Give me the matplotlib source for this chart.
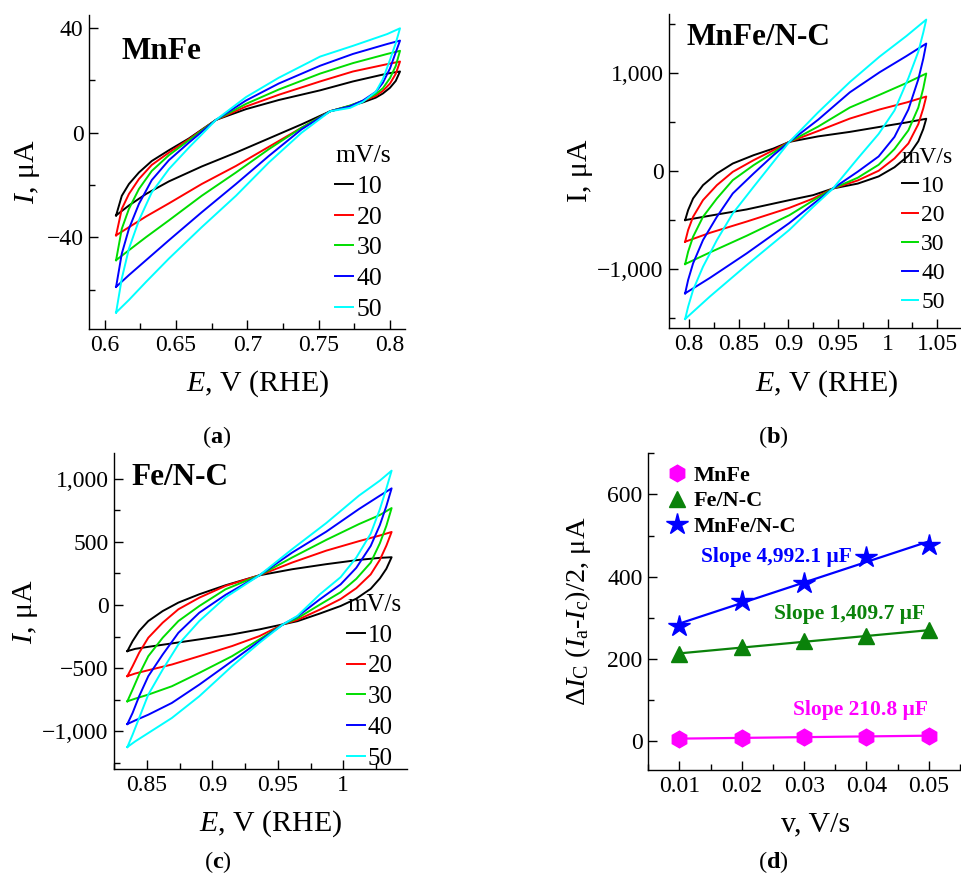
import numpy as np
import matplotlib
matplotlib.use('Agg')
import matplotlib.pyplot as plt
from matplotlib.ticker import MultipleLocator, FuncFormatter

plt.rcParams['font.family'] = ['Liberation Serif', 'DejaVu Serif']
plt.rcParams['mathtext.fontset'] = 'custom'
plt.rcParams['mathtext.rm'] = 'Liberation Serif'
plt.rcParams['mathtext.it'] = 'Liberation Serif:italic'
plt.rcParams['mathtext.bf'] = 'Liberation Serif:bold'

# scan rates (mV/s)
scan_rates = [10, 20, 30, 40, 50]
cv_colors = ['black', '#ff0000', '#00dd00', '#0000ff', '#00ffff']

# (a) MnFe : forward (anodic) and reverse (cathodic) branches, uA
a_E_up = [0.608, 0.612, 0.617, 0.624, 0.633, 0.645, 0.659, 0.678, 0.699, 0.722, 0.751, 0.774, 0.798, 0.807]
a_I_up = [
    [-31.6, -24.1, -19.6, -15.2, -10.8, -6.7, -2.2, 4.9, 9.0, 12.5, 16.2, 19.6, 22.6, 23.4],
    [-39.2, -29.1, -23.4, -17.7, -12.3, -7.6, -2.5, 4.9, 10.0, 14.5, 19.6, 23.4, 26.2, 27.2],
    [-48.7, -36.7, -29.1, -21.5, -14.6, -8.6, -2.9, 4.9, 11.0, 16.5, 22.6, 26.6, 30.1, 31.3],
    [-58.9, -46.2, -36.7, -27.2, -18.1, -10.5, -3.8, 4.9, 12.3, 18.8, 25.6, 30.1, 33.9, 35.2],
    [-68.7, -55.7, -44.3, -33.5, -22.8, -13.9, -5.7, 4.9, 13.6, 21.0, 29.1, 33.2, 37.7, 39.9],
]
a_E_dn = [0.807, 0.804, 0.800, 0.795, 0.790, 0.781, 0.772, 0.758, 0.738, 0.715, 0.692, 0.668, 0.645, 0.629, 0.617, 0.608]
a_I_dn = [
    [23.4, 19.8, 17.2, 15.0, 13.4, 11.6, 10.2, 8.2, 3.2, -2.2, -7.6, -12.9, -18.6, -23.4, -27.8, -31.6],
    [27.2, 22.5, 18.8, 16.0, 14.1, 12.1, 10.3, 8.2, 1.9, -5.4, -12.7, -19.6, -27.0, -32.0, -36.1, -39.2],
    [31.3, 25.5, 20.9, 17.0, 14.8, 12.2, 10.4, 8.2, 1.9, -6.3, -15.2, -24.1, -33.5, -39.9, -44.9, -48.7],
    [35.2, 30.7, 24.6, 19.1, 15.6, 12.3, 10.1, 8.2, 1.3, -8.9, -19.6, -30.4, -41.1, -48.7, -54.4, -58.9],
    [39.9, 34.2, 27.9, 20.5, 15.6, 11.8, 9.5, 8.2, 0.0, -11.4, -24.1, -36.1, -48.1, -57.0, -63.9, -68.7],
]

# (b) MnFe/N-C
b_E_up = [0.796, 0.799, 0.804, 0.814, 0.828, 0.844, 0.865, 0.885, 0.901, 0.930, 0.962, 0.992, 1.019, 1.039]
b_I_up = [
    [-500, -398, -279, -143, -24, 78, 163, 231, 299, 355, 401, 452, 497, 535],
    [-721, -602, -466, -296, -143, -7, 112, 214, 299, 410, 537, 630, 701, 762],
    [-949, -823, -670, -466, -279, -92, 61, 190, 299, 455, 650, 780, 900, 997],
    [-1248, -1112, -942, -704, -466, -228, -24, 163, 299, 525, 805, 1010, 1175, 1303],
    [-1510, -1385, -1214, -976, -704, -432, -160, 95, 299, 600, 910, 1170, 1380, 1548],
]
b_E_dn = [1.039, 1.036, 1.031, 1.021, 1.007, 0.991, 0.970, 0.945, 0.925, 0.901, 0.858, 0.821, 0.796]
b_I_dn = [
    [535, 430, 305, 157, 40, -54, -127, -177, -245, -296, -391, -455, -500],
    [762, 641, 480, 283, 130, 4, -95, -177, -280, -375, -515, -630, -721],
    [997, 845, 649, 417, 226, 65, -67, -177, -300, -450, -660, -830, -949],
    [1303, 1148, 938, 630, 350, 150, -5, -177, -335, -530, -840, -1090, -1248],
    [1548, 1415, 1220, 950, 620, 380, 130, -177, -365, -600, -960, -1280, -1510],
]

# (c) Fe/N-C
c_E_up = [0.835, 0.839, 0.844, 0.851, 0.862, 0.874, 0.890, 0.910, 0.936, 0.961, 0.987, 1.012, 1.028, 1.037]
c_I_up = [
    [-365, -286, -206, -127, -48, 19, 85, 156, 235, 283, 323, 357, 373, 378],
    [-563, -484, -378, -259, -140, -34, 58, 151, 235, 336, 430, 505, 550, 578],
    [-762, -669, -550, -405, -259, -127, -8, 124, 235, 376, 515, 640, 712, 767],
    [-942, -854, -722, -563, -392, -220, -61, 80, 235, 415, 580, 759, 865, 923],
    [-1124, -1026, -894, -709, -511, -312, -127, 60, 235, 442, 648, 865, 984, 1063],
]
c_E_dn = [1.037, 1.033, 1.028, 1.021, 1.010, 0.998, 0.982, 0.965, 0.954, 0.936, 0.915, 0.890, 0.869, 0.851, 0.841, 0.835]
c_I_dn = [
    [378, 287, 210, 128, 50, -8, -68, -128, -153, -193, -233, -272, -304, -331, -347, -365],
    [578, 470, 357, 242, 133, 47, -37, -118, -153, -246, -325, -405, -471, -516, -542, -563],
    [767, 627, 488, 335, 207, 101, 2, -105, -153, -272, -405, -537, -643, -709, -741, -762],
    [923, 783, 632, 467, 294, 163, 44, -91, -153, -286, -444, -630, -775, -868, -913, -942],
    [1063, 922, 757, 564, 375, 220, 83, -86, -153, -299, -484, -722, -894, -1013, -1079, -1124],
]

# (d) capacitive current vs scan rate
v = [0.01, 0.02, 0.03, 0.04, 0.05]
dI_mnfe = [6.5, 8.0, 9.7, 11.4, 13.8]
dI_fenc = [213, 228, 243, 255, 270]
dI_mnfenc = [280, 341, 385, 448, 476]


def num_fmt(val, pos):
    s = f"{round(val, 4):,g}" if abs(val) < 1 else f"{val:,.0f}"
    return s.replace('-', '\u2212')


def style(ax):
    for s in ['top', 'right']:
        ax.spines[s].set_visible(False)
    for s in ['left', 'bottom']:
        ax.spines[s].set_linewidth(1.0)
    ax.tick_params(which='both', direction='in', width=1.0, labelsize=17, pad=4)
    ax.tick_params(which='major', length=6.5)
    ax.tick_params(which='minor', length=4.5)
    ax.xaxis.set_major_formatter(FuncFormatter(lambda x, p: f"{round(x, 4):g}"))
    ax.yaxis.set_major_formatter(FuncFormatter(num_fmt))


def cv_panel(ax, E_up, I_up, E_dn, I_dn, name, name_pos, leg_pos, leg_fs, leg_sp):
    for k, rate in enumerate(scan_rates):
        E = list(E_up) + list(E_dn[1:])
        I = list(I_up[k]) + list(I_dn[k][1:])
        ax.plot(E, I, color=cv_colors[k], lw=1.4, label=str(rate))
    ax.text(name_pos[0], name_pos[1], name, transform=ax.transAxes,
            fontsize=22.5, fontweight='bold', va='baseline', ha='left')
    ax.legend(title='mV/s', loc='upper left', bbox_to_anchor=leg_pos,
              frameon=False, handlelength=0.7, handletextpad=0.12,
              labelspacing=leg_sp, borderaxespad=0, borderpad=0,
              alignment='left', fontsize=leg_fs, title_fontsize=leg_fs)
    style(ax)


fig = plt.figure(figsize=(9.62, 8.75), dpi=100)

ax_a = fig.add_axes([0.0925, 0.624, 0.3285, 0.3589])
ax_b = fig.add_axes([0.6957, 0.6248, 0.3022, 0.3592])
ax_c = fig.add_axes([0.1188, 0.1208, 0.3046, 0.3611])
ax_d = fig.add_axes([0.6739, 0.12, 0.324, 0.3619])

# (a)
cv_panel(ax_a, a_E_up, a_I_up, a_E_dn, a_I_dn, 'MnFe', (0.103, 0.86), (0.78, 0.585), 18.5, 0.3)
ax_a.set_xlim(0.589, 0.8105)
ax_a.set_ylim(-75, 45)
ax_a.xaxis.set_major_locator(MultipleLocator(0.05))
ax_a.xaxis.set_minor_locator(MultipleLocator(0.025))
ax_a.yaxis.set_major_locator(MultipleLocator(40))
ax_a.yaxis.set_minor_locator(MultipleLocator(20))
ax_a.set_xlabel('$E$, V (RHE)', fontsize=21.5)
ax_a.set_ylabel('$I$, \u03bcA', fontsize=21.5)
ax_a.xaxis.set_label_coords(0.532, -0.125)
ax_a.yaxis.set_label_coords(-0.15, 0.5)

# (b)
cv_panel(ax_b, b_E_up, b_I_up, b_E_dn, b_I_dn, 'MnFe/N-C', (0.06, 0.901), (0.80, 0.578), 17, 0.32)
ax_b.set_xlim(0.78, 1.073)
ax_b.set_ylim(-1605, 1605)
ax_b.xaxis.set_major_locator(MultipleLocator(0.05))
ax_b.xaxis.set_minor_locator(MultipleLocator(0.025))
ax_b.yaxis.set_major_locator(MultipleLocator(1000))
ax_b.yaxis.set_minor_locator(MultipleLocator(500))
ax_b.set_xlabel('$E$, V (RHE)', fontsize=21.5)
ax_b.set_ylabel('I, \u03bcA', fontsize=21.5)
ax_b.xaxis.set_label_coords(0.541, -0.127)
ax_b.yaxis.set_label_coords(-0.261, 0.5)

# (c)
cv_panel(ax_c, c_E_up, c_I_up, c_E_dn, c_I_dn, 'Fe/N-C', (0.059, 0.90), (0.795, 0.555), 18, 0.33)
ax_c.set_xlim(0.825, 1.049)
ax_c.set_ylim(-1300, 1200)
ax_c.xaxis.set_major_locator(MultipleLocator(0.05))
ax_c.xaxis.set_minor_locator(MultipleLocator(0.025))
ax_c.yaxis.set_major_locator(MultipleLocator(500))
ax_c.yaxis.set_minor_locator(MultipleLocator(250))
ax_c.set_xlabel('$E$, V (RHE)', fontsize=21.5)
ax_c.set_ylabel('$I$, \u03bcA', fontsize=21.5)
ax_c.xaxis.set_label_coords(0.534, -0.122)
ax_c.yaxis.set_label_coords(-0.254, 0.5)

# (d)
d_series = [
    (dI_mnfe, '#ff00ff', 'h', 12, 'MnFe'),
    (dI_fenc, '#0a820a', '^', 12, 'Fe/N-C'),
    (dI_mnfenc, '#0000ff', '*', 16, 'MnFe/N-C'),
]
for vals, col, mk, ms, lab in d_series:
    p = np.polyfit(v, vals, 1)
    ax_d.plot(v, np.polyval(p, v), color=col, lw=1.6)
    ax_d.plot(v, vals, linestyle='none', marker=mk, ms=ms, color=col, label=lab)
ax_d.text(0.0256, 449, 'Slope 4,992.1 \u03bcF', color='#0000ff', fontsize=15.5,
          fontweight='bold', ha='center', va='center')
ax_d.text(0.0373, 309, 'Slope 1,409.7 \u03bcF', color='#0a820a', fontsize=15.5,
          fontweight='bold', ha='center', va='center')
ax_d.text(0.0390, 76, 'Slope 210.8 \u03bcF', color='#ff00ff', fontsize=15.5,
          fontweight='bold', ha='center', va='center')
ax_d.legend(loc='upper left', bbox_to_anchor=(0.072, 0.962), frameon=False,
            handlelength=0.6, handletextpad=0.45, labelspacing=0.22,
            borderaxespad=0, borderpad=0, prop={'weight': 'bold', 'size': 16})
style(ax_d)
ax_d.set_xlim(0.005, 0.055)
ax_d.set_ylim(-70, 700)
ax_d.xaxis.set_major_locator(MultipleLocator(0.01))
ax_d.xaxis.set_minor_locator(MultipleLocator(0.005))
ax_d.yaxis.set_major_locator(MultipleLocator(200))
ax_d.yaxis.set_minor_locator(MultipleLocator(100))
ax_d.set_xlabel('v, V/s', fontsize=21.5)
ax_d.set_ylabel('\u0394$I_\\mathrm{C}$ ($I_\\mathrm{a}$-$I_\\mathrm{c}$)/2, \u03bcA', fontsize=20.5)
ax_d.xaxis.set_label_coords(0.537, -0.13)
ax_d.yaxis.set_label_coords(-0.176, 0.5)

# panel letters
for xf, yf, letter in [(0.2256, 0.5006, 'a'), (0.8035, 0.5006, 'b'),
                       (0.2266, 0.0149, 'c'), (0.8035, 0.0149, 'd')]:
    fig.text(xf, yf, '($\\mathbf{%s}$)' % letter, fontsize=17.5, ha='center', va='center')

fig.savefig('out.png', dpi=100)
